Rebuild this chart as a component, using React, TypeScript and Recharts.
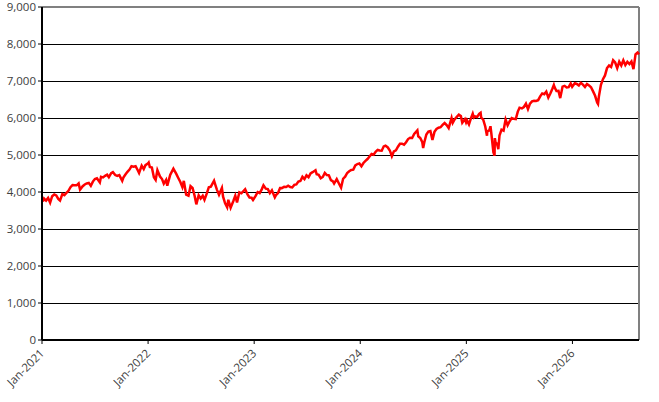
import React from 'react';
import {
  LineChart,
  Line,
  XAxis,
  YAxis,
  CartesianGrid,
  ReferenceLine,
} from 'recharts';

// index level, about one point a week plus the sharp daily dips
const Y2021: [string, number][] = [
  ['01-04', 3740], ['01-08', 3824], ['01-15', 3768], ['01-22', 3841], ['01-29', 3714], ['02-05', 3886],
  ['02-12', 3934], ['02-19', 3906], ['02-26', 3811], ['03-04', 3768], ['03-12', 3943], ['03-19', 3913],
  ['03-26', 3975], ['04-01', 4020], ['04-09', 4129], ['04-16', 4185], ['04-23', 4180], ['04-30', 4181],
  ['05-07', 4232], ['05-12', 4063], ['05-21', 4156], ['05-28', 4204], ['06-04', 4230], ['06-11', 4247],
  ['06-18', 4166], ['06-25', 4281], ['07-02', 4352], ['07-09', 4370], ['07-19', 4258], ['07-23', 4412],
  ['07-30', 4395], ['08-06', 4437], ['08-13', 4468], ['08-19', 4400], ['08-27', 4509], ['09-02', 4537],
  ['09-10', 4459], ['09-17', 4433], ['09-24', 4455], ['10-04', 4300], ['10-08', 4391], ['10-15', 4471],
  ['10-22', 4545], ['10-29', 4605], ['11-05', 4697], ['11-12', 4683], ['11-19', 4698], ['11-26', 4595],
  ['12-01', 4513], ['12-10', 4712], ['12-17', 4621], ['12-23', 4725], ['12-31', 4766],
];

const Y2022: [string, number][] = [
  ['01-03', 4796], ['01-07', 4677], ['01-14', 4663], ['01-21', 4398], ['01-27', 4326], ['02-02', 4589],
  ['02-11', 4419], ['02-18', 4349], ['02-24', 4225], ['03-04', 4329], ['03-08', 4170], ['03-18', 4463],
  ['03-29', 4631], ['04-08', 4488], ['04-14', 4393], ['04-22', 4272], ['04-29', 4132], ['05-04', 4300],
  ['05-12', 3930], ['05-20', 3901], ['05-27', 4158], ['06-03', 4109], ['06-10', 3901], ['06-16', 3667],
  ['06-24', 3912], ['07-01', 3825], ['07-08', 3899], ['07-14', 3790], ['07-22', 3962], ['07-29', 4130],
  ['08-05', 4145], ['08-16', 4305], ['08-19', 4228], ['08-26', 4058], ['09-02', 3924], ['09-12', 4110],
  ['09-16', 3873], ['09-23', 3693], ['09-30', 3586], ['10-04', 3791], ['10-12', 3577], ['10-21', 3752],
  ['10-28', 3901], ['11-03', 3720], ['11-11', 3993], ['11-18', 3965], ['12-01', 4076], ['12-09', 3934],
  ['12-16', 3852], ['12-23', 3845], ['12-28', 3783],
];

const Y2023: [string, number][] = [
  ['01-06', 3895], ['01-13', 3999], ['01-20', 3973], ['01-27', 4071], ['02-02', 4179], ['02-10', 4090],
  ['02-17', 4079], ['02-24', 3970], ['03-03', 4046], ['03-13', 3855], ['03-17', 3917], ['03-24', 3971],
  ['03-31', 4109], ['04-06', 4105], ['04-14', 4138], ['04-21', 4133], ['04-28', 4169], ['05-05', 4136],
  ['05-12', 4124], ['05-19', 4192], ['05-26', 4205], ['06-02', 4282], ['06-09', 4299], ['06-16', 4410],
  ['06-23', 4348], ['06-30', 4450], ['07-07', 4399], ['07-14', 4505], ['07-21', 4536], ['07-31', 4589],
  ['08-04', 4478], ['08-11', 4464], ['08-18', 4370], ['08-25', 4406], ['09-01', 4516], ['09-08', 4457],
  ['09-15', 4450], ['09-22', 4320], ['09-29', 4288], ['10-03', 4229], ['10-12', 4349], ['10-20', 4224],
  ['10-27', 4117], ['11-03', 4358], ['11-10', 4415], ['11-17', 4514], ['11-24', 4559], ['12-01', 4595],
  ['12-08', 4604], ['12-15', 4719], ['12-22', 4755], ['12-29', 4770],
];

const Y2024: [string, number][] = [
  ['01-05', 4697], ['01-12', 4784], ['01-19', 4840], ['01-26', 4891], ['02-02', 4959], ['02-09', 5027],
  ['02-16', 5006], ['02-23', 5089], ['03-01', 5137], ['03-08', 5124], ['03-15', 5117], ['03-22', 5234],
  ['03-28', 5254], ['04-05', 5204], ['04-12', 5123], ['04-19', 4967], ['04-26', 5100], ['05-03', 5128],
  ['05-10', 5223], ['05-17', 5303], ['05-24', 5305], ['05-31', 5278], ['06-07', 5347], ['06-14', 5431],
  ['06-21', 5465], ['06-28', 5460], ['07-05', 5567], ['07-16', 5667], ['07-19', 5505], ['07-26', 5459],
  ['08-02', 5346], ['08-05', 5186], ['08-09', 5344], ['08-16', 5554], ['08-23', 5634], ['08-30', 5648],
  ['09-06', 5408], ['09-13', 5626], ['09-20', 5703], ['09-27', 5738], ['10-04', 5751], ['10-11', 5815],
  ['10-18', 5864], ['10-25', 5808], ['11-01', 5729], ['11-11', 6001], ['11-15', 5870], ['11-22', 5969],
  ['11-29', 6032], ['12-06', 6090], ['12-13', 6051], ['12-18', 5872], ['12-27', 5970], ['12-31', 5882],
];

const Y2025: [string, number][] = [
  ['01-03', 5942], ['01-10', 5827], ['01-17', 5997], ['01-23', 6118], ['01-27', 6012], ['01-31', 6041],
  ['02-07', 6026], ['02-14', 6115], ['02-19', 6144], ['02-21', 6013], ['02-28', 5955], ['03-07', 5770],
  ['03-13', 5521], ['03-14', 5639], ['03-21', 5668], ['03-25', 5777], ['03-28', 5581], ['04-04', 5074],
  ['04-08', 4982], ['04-09', 5457], ['04-11', 5363], ['04-17', 5283], ['04-21', 5158], ['04-25', 5525],
  ['05-02', 5686], ['05-09', 5660], ['05-16', 5958], ['05-23', 5803], ['05-30', 5912], ['06-06', 6000],
  ['06-13', 5977], ['06-20', 5968], ['06-27', 6173], ['07-03', 6279], ['07-11', 6260], ['07-18', 6297],
  ['07-25', 6389], ['08-01', 6238], ['08-08', 6389], ['08-15', 6450], ['08-22', 6467], ['08-29', 6460],
  ['09-05', 6482], ['09-12', 6584], ['09-19', 6664], ['09-26', 6644], ['10-03', 6716], ['10-10', 6553],
  ['10-17', 6664], ['10-24', 6792], ['10-29', 6890], ['10-31', 6840], ['11-07', 6729], ['11-14', 6734],
  ['11-20', 6538], ['11-28', 6849], ['12-05', 6870], ['12-12', 6827], ['12-19', 6834], ['12-26', 6930],
  ['12-31', 6845],
];

const Y2026: [string, number][] = [
  ['01-09', 6940], ['01-16', 6920], ['01-23', 6880], ['01-30', 6950], ['02-06', 6900], ['02-13', 6840],
  ['02-20', 6920], ['02-27', 6880], ['03-06', 6830], ['03-13', 6720], ['03-20', 6600], ['03-27', 6420],
  ['03-30', 6380], ['04-02', 6580], ['04-09', 6900], ['04-16', 7050], ['04-23', 7150], ['04-30', 7350],
  ['05-07', 7420], ['05-14', 7380], ['05-21', 7560], ['05-28', 7500], ['06-04', 7350], ['06-11', 7520],
  ['06-18', 7420], ['06-25', 7560], ['07-02', 7430], ['07-09', 7520], ['07-16', 7460], ['07-23', 7530],
  ['07-30', 7320], ['08-06', 7720], ['08-13', 7770], ['08-18', 7720],
];

const YEARS: [number, [string, number][]][] = [
  [2021, Y2021], [2022, Y2022], [2023, Y2023], [2024, Y2024], [2025, Y2025], [2026, Y2026],
];

const Y_TICKS = [0, 1000, 2000, 3000, 4000, 5000, 6000, 7000, 8000, 9000];
const X_TICK_YEARS = [2021, 2022, 2023, 2024, 2025, 2026];

const toYear = (year: number, md: string) => {
  const [m, d] = md.split('-').map(Number);
  const start = Date.UTC(year, 0, 1);
  const end = Date.UTC(year + 1, 0, 1);
  return year + (Date.UTC(year, m - 1, d) - start) / (end - start);
};

const data = YEARS.flatMap(([year, rows]) =>
  rows.map(([md, value]) => ({ t: toYear(year, md), value }))
);
const lastT = data[data.length - 1].t;

const FONT = '"Open Sans", "DejaVu Sans", sans-serif';

const XTick = ({ x, y, payload }: any) => (
  <text
    x={x + 3}
    y={y + 8}
    textAnchor="end"
    fill="#404040"
    fontSize={11.5}
    fontFamily={FONT}
    transform={`rotate(-45, ${x + 3}, ${y + 8})`}
  >
    {`Jan-${Math.round(payload.value)}`}
  </text>
);

export default function App() {
  return (
    <div style={{ position: 'absolute', left: 0, top: 0, background: '#fff' }}>
      <LineChart
        width={659}
        height={402}
        data={data}
        margin={{ top: 7, right: 20, left: 0, bottom: 7 }}
      >
        <CartesianGrid
          horizontal
          vertical={false}
          stroke="#000"
          strokeWidth={1}
          shapeRendering="crispEdges"
        />
        <XAxis
          dataKey="t"
          type="number"
          domain={[2021, lastT]}
          ticks={X_TICK_YEARS}
          tick={<XTick />}
          tickSize={4}
          tickLine={{ stroke: '#000' }}
          axisLine={{ stroke: '#000', strokeWidth: 2 }}
          height={55}
          interval={0}
        />
        <YAxis
          domain={[0, 9000]}
          ticks={Y_TICKS}
          tickFormatter={(v) => v.toLocaleString('en-US')}
          tick={{ fill: '#404040', fontSize: 11.5, fontFamily: FONT }}
          tickSize={4}
          tickLine={{ stroke: '#000' }}
          axisLine={{ stroke: '#000', strokeWidth: 2 }}
          width={42}
          interval={0}
        />
        <ReferenceLine y={9000} stroke="#808080" strokeWidth={2} />
        <ReferenceLine x={lastT} stroke="#808080" strokeWidth={2} />
        <Line
          type="linear"
          dataKey="value"
          stroke="#ff0000"
          strokeWidth={2.5}
          dot={false}
          isAnimationActive={false}
        />
      </LineChart>
    </div>
  );
}
